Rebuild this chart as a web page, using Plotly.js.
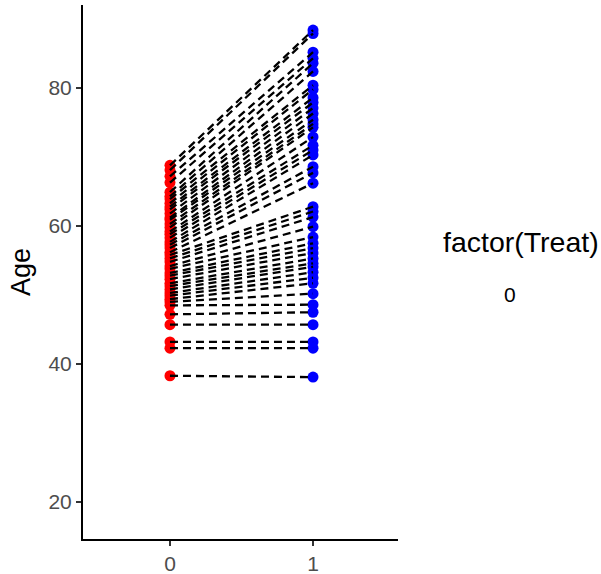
<!DOCTYPE html>
<html>
<head>
<meta charset="utf-8">
<script src="https://cdn.plot.ly/plotly-3.0.1.min.js"></script>
<style>html,body{margin:0;padding:0;background:#fff;}#chart{width:601px;height:574px;}</style>
</head>
<body>
<div id="chart"></div>
<script>
// Age before (Treat = 0) and after (Treat = 1), paired by subject
const ageTreat0 = [68.8, 68.1, 67.2, 66.3,
  64.9, 64.3, 63.9, 63.3, 62.8, 62.4, 61.8, 61.2, 60.9, 60.3, 59.8, 59.2, 58.8,
  58.3, 57.7, 57.3, 56.8, 56.2, 55.8, 55.3, 54.8, 54.2, 53.8, 53.2, 52.8, 52.3,
  51.7, 51.3, 50.8, 50.3, 49.9, 49.4, 49.0,
  48.5, 47.2, 45.7, 43.2, 42.3, 38.3];
const ageTreat1 = [88.4, 87.9, 85.2, 84.3, 83.6, 82.4, 80.4, 79.8, 78.6, 77.9,
  77.1, 76.3, 75.4, 74.8, 74.3, 72.9, 71.7, 71.0, 70.3, 68.6, 67.7, 66.2, 62.8,
  62.1, 61.3, 59.9, 58.4, 57.5, 56.8, 56.1, 55.3, 54.6, 54.1, 53.3, 52.5, 51.7, 50.2,
  48.6, 47.5, 45.7, 43.2, 42.3, 38.1];
const xCategories = [0, 1];
const yTicks = [20, 40, 60, 80];
const legendTitle = "factor(Treat)";
const legendLabels = ["0"];

const lineX = [], lineY = [];
for (let i = 0; i < ageTreat0.length; i++) {
  lineX.push(xCategories[0], xCategories[1], null);
  lineY.push(ageTreat0[i], ageTreat1[i], null);
}

const traces = [
  {x: ageTreat0.map(() => xCategories[0]), y: ageTreat0, mode: 'markers', type: 'scatter',
   marker: {color: '#FF0000', size: 11}, hoverinfo: 'y', showlegend: false},
  {x: ageTreat1.map(() => xCategories[1]), y: ageTreat1, mode: 'markers', type: 'scatter',
   marker: {color: '#0000FF', size: 11}, hoverinfo: 'y', showlegend: false},
  {x: lineX, y: lineY, mode: 'lines', type: 'scatter',
   line: {color: '#000000', width: 2.3, dash: '8px,5px'}, hoverinfo: 'skip', showlegend: false}
];

const layout = {
  width: 601, height: 574,
  margin: {l: 83, r: 203, t: 5, b: 35},
  paper_bgcolor: '#ffffff', plot_bgcolor: '#ffffff',
  font: {family: 'Liberation Sans, Arial, sans-serif'},
  showlegend: false,
  xaxis: {
    range: [-0.608, 1.594], tickvals: xCategories, ticktext: xCategories.map(String),
    showgrid: false, zeroline: false, showline: true, linecolor: '#000', linewidth: 2,
    ticks: 'outside', ticklen: 5, tickwidth: 2, tickcolor: '#333',
    tickfont: {size: 21, color: '#4D4D4D'}
  },
  yaxis: {
    range: [14.64, 92.03], tickvals: yTicks,
    showgrid: false, zeroline: false, showline: true, linecolor: '#000', linewidth: 2,
    ticks: 'outside', ticklen: 5, tickwidth: 2, tickcolor: '#333',
    tickfont: {size: 21, color: '#4D4D4D'},
    title: {text: 'Age', font: {size: 27, color: '#000'}, standoff: 10}
  },
  annotations: [
    {text: legendTitle, xref: 'paper', yref: 'paper', x: 1.136, y: 0.556,
     xanchor: 'left', yanchor: 'middle', showarrow: false, font: {size: 28.5, color: '#000'}},
    {text: legendLabels[0], xref: 'paper', yref: 'paper', x: 1.355, y: 0.457,
     xanchor: 'center', yanchor: 'middle', showarrow: false, font: {size: 21, color: '#000'}}
  ]
};

Plotly.newPlot('chart', traces, layout, {displayModeBar: false, staticPlot: true});
</script>
</body>
</html>
